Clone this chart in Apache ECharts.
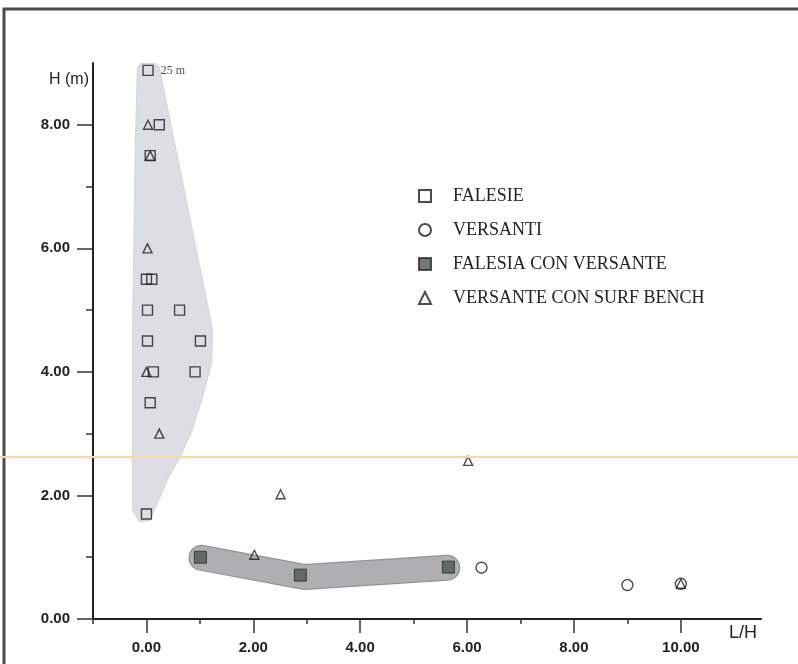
<!DOCTYPE html>
<html>
<head>
<meta charset="utf-8">
<script src="https://cdn.jsdelivr.net/npm/echarts@6/dist/echarts.min.js"></script>
<style>
  html, body { margin: 0; padding: 0; background: #fff; }
  #chart { width: 798px; height: 664px; }
</style>
</head>
<body>
<div id="chart"></div>
<script>
// Falesie (open squares): L/H and H (m). The 25 m cliff sits above the axis range.
const falesieLH = [0.03, 0.24, 0.07, 0.0, 0.1, 0.02, 0.62, 0.02, 1.01, 0.13, 0.91, 0.07, 0.0];
const falesieH  = [25, 8.0, 7.5, 5.5, 5.5, 5.0, 5.0, 4.5, 4.5, 4.0, 4.0, 3.5, 1.7];

// Versanti (open circles)
const versantiLH = [6.27, 9.0, 10.0];
const versantiH  = [0.83, 0.55, 0.57];

// Falesia con versante (filled squares)
const falVersLH = [1.01, 2.88, 5.65];
const falVersH  = [1.0, 0.71, 0.84];

// Versante con surf bench (open triangles)
const surfLH = [0.03, 0.07, 0.02, 0.0, 0.24, 2.02, 2.51, 6.02, 10.0];
const surfH  = [8.0, 7.5, 6.0, 4.0, 3.0, 1.04, 2.02, 2.56, 0.57];

// Outline of the shaded field grouping the falesie
const zoneLH = [-0.17, -0.12, 0.18, 0.24, 1.23, 1.23, 1.22, 1.05, 0.86, 0.65, 0.39, 0.21, 0.06, -0.13, -0.26, -0.26, -0.26, -0.26, -0.21, -0.17];
const zoneH  = [8.92, 8.99, 8.99, 8.93, 4.72, 4.35, 4.14, 3.59, 3.06, 2.65, 2.25, 1.88, 1.60, 1.57, 1.76, 2.52, 3.59, 4.68, 7.59, 8.88];

// Centre line of the band grouping the falesie con versante
const bandLH = [1.03, 2.96, 5.63];
const bandH  = [0.99, 0.68, 0.83];

// Axis ticks and labels
const xMajor = [0, 2, 4, 6, 8, 10];
const xMinor = [-1, 1, 3, 5, 7, 9];
const yMajor = [0, 2, 4, 6, 8];
const yMinor = [1, 3, 5, 7];

const legendNames = ['FALESIE', 'VERSANTI', 'FALESIA CON VERSANTE', 'VERSANTE CON SURF BENCH'];

// Values above the top of the H axis are pinned to this row and labelled with their height
const H_CEILING = 8.88;

const zip = (xs, ys) => xs.map((x, i) => [x, ys[i]]);

const sans = 'Liberation Sans, Arial, sans-serif';
const serif = 'Liberation Serif, Times New Roman, serif';
const ink = '#222';

const chart = echarts.init(document.getElementById('chart'), null, { renderer: 'canvas' });

chart.setOption({
  animation: false,
  backgroundColor: '#fff',
  grid: { left: 93, right: 37, top: 63, bottom: 45, containLabel: false },
  xAxis: [
    {
      type: 'value', min: -1, max: 11.5, position: 'bottom',
      name: 'L/H', nameLocation: 'end', nameGap: -4,
      nameTextStyle: { fontFamily: sans, fontSize: 18, color: ink, align: 'right', verticalAlign: 'top', padding: [5, 0, 0, 0] },
      axisLine: { show: true, onZero: false, lineStyle: { color: ink, width: 2 } },
      axisTick: { show: true, customValues: xMajor, length: 14, lineStyle: { color: '#333', width: 1.5 } },
      axisLabel: { show: true, customValues: xMajor, margin: 21, formatter: v => v.toFixed(2),
        fontFamily: sans, fontWeight: 'bold', fontSize: 15, color: ink },
      splitLine: { show: false }
    },
    {
      type: 'value', min: -1, max: 11.5, position: 'bottom',
      axisLine: { show: false, onZero: false },
      axisTick: { show: true, customValues: xMinor, length: 5, lineStyle: { color: '#333', width: 1.5 } },
      axisLabel: { show: false },
      splitLine: { show: false }
    }
  ],
  yAxis: [
    {
      type: 'value', min: 0, max: 9, position: 'left',
      name: 'H (m)', nameLocation: 'end', nameGap: -17,
      nameTextStyle: { fontFamily: sans, fontSize: 16, color: ink, align: 'right', verticalAlign: 'middle', padding: [0, 4, 0, 0] },
      axisLine: { show: true, onZero: false, lineStyle: { color: ink, width: 2 } },
      axisTick: { show: true, customValues: yMajor, length: 16, lineStyle: { color: '#333', width: 1.5 } },
      axisLabel: { show: true, customValues: yMajor, margin: 23, formatter: v => v.toFixed(2),
        fontFamily: sans, fontWeight: 'bold', fontSize: 15, color: ink },
      splitLine: { show: false }
    },
    {
      type: 'value', min: 0, max: 9, position: 'left',
      axisLine: { show: false, onZero: false },
      axisTick: { show: true, customValues: yMinor, length: 7, lineStyle: { color: '#333', width: 1.5 } },
      axisLabel: { show: false },
      splitLine: { show: false }
    }
  ],
  legend: {
    data: legendNames,
    orient: 'vertical',
    left: 413, top: 181,
    itemWidth: 12, itemHeight: 12, itemGap: 14,
    selectedMode: false,
    textStyle: { fontFamily: serif, fontSize: 18, lineHeight: 20, color: ink, padding: [0, 0, 0, 17] }
  },
  series: [
    {
      name: 'zona falesie',
      type: 'custom',
      silent: true,
      z: 1,
      data: [[0, 0]],
      renderItem: (params, api) => ({
        type: 'polygon',
        shape: { points: zoneLH.map((x, i) => api.coord([x, zoneH[i]])) },
        style: { fill: '#dddde4', stroke: '#d4d4dc', lineWidth: 1 }
      })
    },
    {
      name: 'fascia bordo',
      type: 'line',
      silent: true,
      z: 1,
      data: zip(bandLH, bandH),
      symbol: 'none',
      lineStyle: { color: '#949496', width: 26, cap: 'round', join: 'round' }
    },
    {
      name: 'fascia',
      type: 'line',
      silent: true,
      z: 1,
      data: zip(bandLH, bandH),
      symbol: 'none',
      lineStyle: { color: '#afafb1', width: 23.5, cap: 'round', join: 'round' }
    },
    {
      name: 'FALESIE',
      type: 'scatter',
      z: 3,
      symbol: 'rect',
      symbolSize: 10,
      itemStyle: { color: 'rgba(255,255,255,0)', borderColor: '#1e1e1e', borderWidth: 1.4 },
      data: falesieLH.map((x, i) => {
        const h = falesieH[i];
        if (h > H_CEILING) {
          return {
            value: [x, H_CEILING],
            label: { show: true, position: 'right', distance: 7, formatter: h + ' m',
              fontFamily: serif, fontSize: 12, color: ink }
          };
        }
        return [x, h];
      })
    },
    {
      name: 'VERSANTI',
      type: 'scatter',
      z: 3,
      symbol: 'circle',
      symbolSize: 11,
      itemStyle: { color: 'rgba(255,255,255,0)', borderColor: '#1e1e1e', borderWidth: 1.4 },
      data: zip(versantiLH, versantiH)
    },
    {
      name: 'FALESIA CON VERSANTE',
      type: 'scatter',
      z: 3,
      symbol: 'rect',
      symbolSize: 12,
      itemStyle: { color: '#4e5a4e', borderColor: '#2a2a2a', borderWidth: 1 },
      data: zip(falVersLH, falVersH)
    },
    {
      name: 'VERSANTE CON SURF BENCH',
      type: 'scatter',
      z: 4,
      symbol: 'triangle',
      symbolSize: 9,
      itemStyle: { color: 'rgba(255,255,255,0)', borderColor: '#1e1e1e', borderWidth: 1.4 },
      data: zip(surfLH, surfH)
    }
  ],
  graphic: [
    // page frame
    {
      type: 'polyline', z: 100, silent: true,
      shape: { points: [[4, 664], [4, 9], [798, 9]] },
      style: { stroke: '#4a4a4a', lineWidth: 3, fill: null }
    },
    // faint horizontal rule crossing the sheet
    {
      type: 'line', z: 100, silent: true,
      shape: { x1: 0, y1: 457, x2: 798, y2: 457 },
      style: { stroke: '#f6d9a3', lineWidth: 2 }
    }
  ]
});
</script>
</body>
</html>
